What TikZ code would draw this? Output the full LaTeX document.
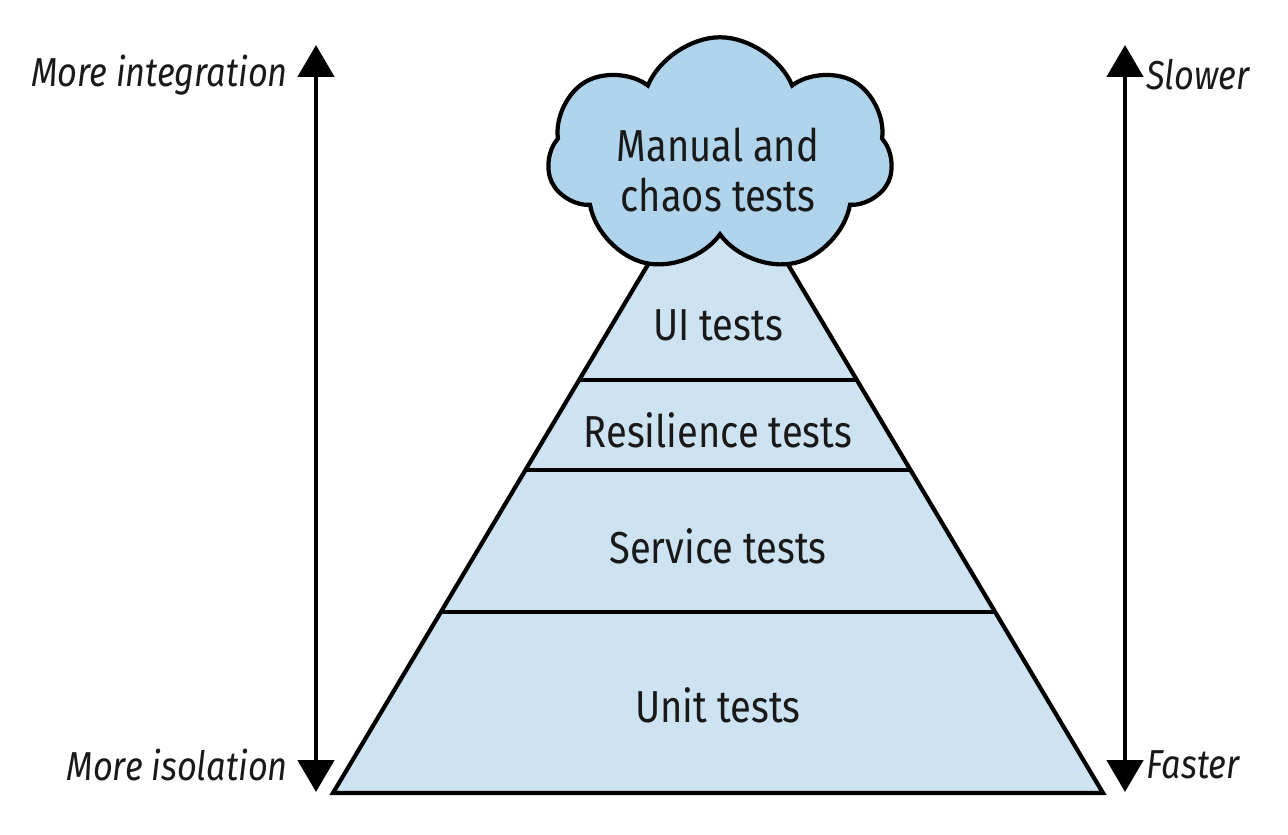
\documentclass[tikz,border=0pt]{standalone}
\usepackage{fontspec}
\setmainfont{Fira Sans}[FakeStretch=0.85]
\usetikzlibrary{arrows.meta,shapes.symbols,positioning,calc}
\definecolor{tierblue}{HTML}{CDE3F2}
\definecolor{cloudblue}{HTML}{B0D4EC}
\tikzset{>={Triangle[width=0.72cm,length=0.64cm]},
         axis/.style={<->, line width=2.8pt},
         outline/.style={line width=2.4pt},
         tier/.style={font=\fontsize{25.5}{28}\selectfont, text=black!90},
         side/.style={font=\itshape\fontsize{23}{26}\selectfont, text=black!90}}

\begin{document}
\begin{tikzpicture}[x=0.02cm,y=-0.02cm]
  \useasboundingbox (0,0) rectangle (1288,835);
  \coordinate (base-l) at (333,793);
  \coordinate (base-r) at (1103,793);
  \coordinate (apex) at (718,147);
  % pyramid body
  \fill[tierblue] (base-l) -- (apex) -- (base-r) -- cycle;
  \foreach \y in {380,470,612}
    \draw[outline] ($(base-l)!{(793-\y)/646}!(apex)$) -- ($(base-r)!{(793-\y)/646}!(apex)$);
  \draw[outline, line join=miter] (apex) -- (base-l) -- (base-r) -- cycle;

  % tiers
  \node[tier] (unit) at (718,705) {Unit tests};
  \node[tier] (service) at (718,546) {Service tests};
  \node[tier] (resilience) at (718,430) {Resilience tests};
  \node[tier] (ui) at (718,325) {UI tests};
  \node[cloud, cloud puffs=7, cloud puff arc=135, aspect=1.4,
        minimum width=6.9cm, minimum height=4.75cm,
        fill=cloudblue, draw, outline] (manual) at (720,156) {};
  \node[tier, align=center] (manual-text) at (718,170) {Manual and\\chaos tests};

  % axes
  \coordinate (iso-end) at (316,792);
  \coordinate (int-end) at (316,45);
  \coordinate (fast-end) at (1125,792);
  \coordinate (slow-end) at (1125,45);
  \draw[axis] (iso-end) -- (int-end);
  \draw[axis] (fast-end) -- (slow-end);
  \node[side, anchor=east] (integration) at (294,75) {More integration};
  \node[side, anchor=east] (isolation) at (294,765) {More isolation};
  \node[side, anchor=west] (slower) at (1140,75) {Slower};
  \node[side, anchor=west] (faster) at (1140,765) {Faster};
\end{tikzpicture}
\end{document}
